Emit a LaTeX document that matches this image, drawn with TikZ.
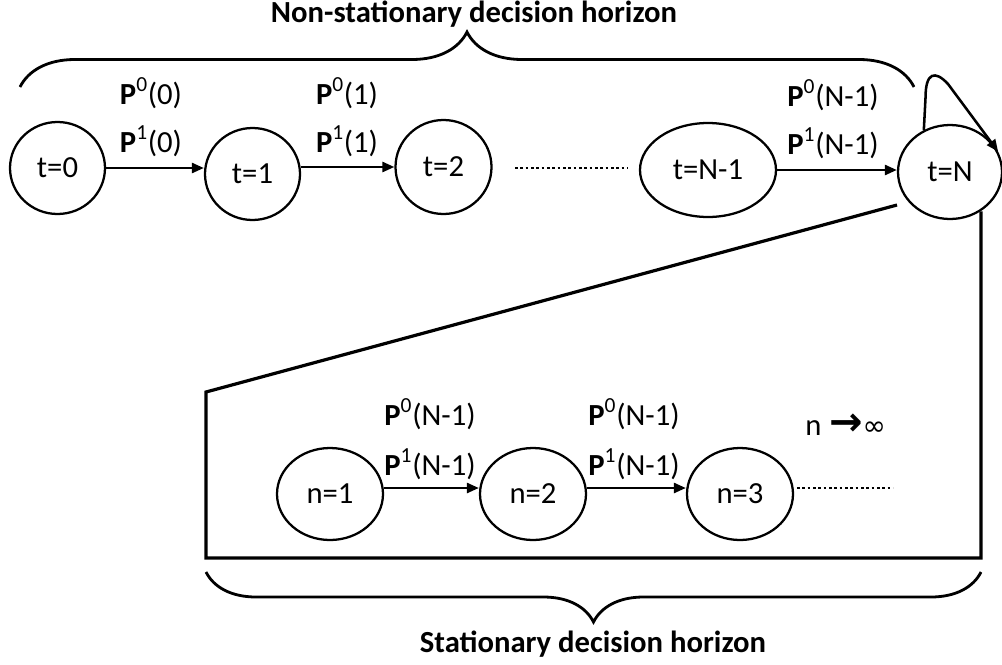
\documentclass[tikz,border=0pt]{standalone}
\usepackage{fontspec}
\setmainfont{Carlito}
\newfontfamily\symfont{DejaVu Sans}
\usetikzlibrary{shapes.geometric,arrows.meta,decorations.pathreplacing}
\begin{document}
\begin{tikzpicture}[x=0.75pt,y=-0.75pt,
  stnode/.style 2 args={ellipse, draw, line width=1.7pt, minimum width=#1*1.5pt, minimum height=#2*1.5pt, inner sep=0pt, font=\fontsize{23}{27}\selectfont},
  arr/.style={line width=1.9pt, -{Triangle[length=9pt,width=7.5pt]}},
  lab/.style={anchor=base, inner sep=0pt, font=\fontsize{23}{27}\selectfont},
  ttl/.style={anchor=base, inner sep=0pt, font=\fontsize{23}{27}\selectfont\bfseries},
  dotline/.style={line width=2pt, dash pattern=on 2pt off 2pt},
  boxline/.style={line width=2.4pt, line join=miter},
  bracel/.style={line width=2.1pt, decorate, decoration={brace, amplitude=#1}}
]
\useasboundingbox (0,0) rectangle (1002,664);

% upper chain
\node[stnode={47.5}{46}] (t0) at (57.5,168) {t=0};
\node[stnode={47.5}{46}] (t1) at (252.5,174) {t=1};
\node[stnode={48}{47}] (t2) at (443.5,167) {t=2};
\node[stnode={68}{47}] (tN1) at (708,170) {t=N-1};
\node[stnode={52}{47}] (tN) at (950,172) {t=N};

\draw[arr] (t0.east) -- (t0.east -| t1.west);
\draw[arr] (t2.west -| t1.east) -- (t2.west);
\draw[arr] (tN1.east) -- (tN1.east -| tN.west);
\draw[arr] (tN.122) -- (925.5,98) .. controls (925.5,72) and (935,70) .. (948,84) -- (tN.23);

\coordinate (d1a) at (515,168);
\coordinate (d1b) at (628,168);
\draw[dotline] (d1a) -- (d1b);

\node[lab] (a0) at (151,104) {\textbf{P}\textsuperscript{0}(0)};
\node[lab] (b0) at (151,152) {\textbf{P}\textsuperscript{1}(0)};
\node[lab] (a1) at (347,104) {\textbf{P}\textsuperscript{0}(1)};
\node[lab] (b1) at (347,152) {\textbf{P}\textsuperscript{1}(1)};
\node[lab] (a2) at (833,106) {\textbf{P}\textsuperscript{0}(N-1)};
\node[lab] (b2) at (833,154) {\textbf{P}\textsuperscript{1}(N-1)};

% top brace
\coordinate (tbl) at (20,87);
\coordinate (tbr) at (914,87);
\draw[bracel=41.25pt] (tbl) -- (tbr);
\node[ttl] (ttop) at (474,22) {Non-stationary decision horizon};

% zoom box
\coordinate (p1) at (897,205);
\coordinate (p2) at (206,392);
\coordinate (p3) at (206,558);
\coordinate (p4) at (981,558);
\draw[boxline] (p1) -- (p2) -- (p3) -- (p4) -- (p4 |- tN.-52);

% lower chain
\node[stnode={53}{46}] (n1) at (330,494) {n=1};
\node[stnode={53}{46}] (n2) at (533,494) {n=2};
\node[stnode={53}{46}] (n3) at (740,494) {n=3};

\draw[arr] ([yshift=4.5pt]n1.east) -- ([yshift=4.5pt]n2.west);
\draw[arr] ([yshift=4.5pt]n2.east) -- ([yshift=4.5pt]n3.west);

\coordinate (d2a) at (797,488);
\coordinate (d2b) at (893,488);
\draw[dotline] (d2a) -- (d2b);

\node[lab] (a3) at (430,425) {\textbf{P}\textsuperscript{0}(N-1)};
\node[lab] (b3) at (430,475) {\textbf{P}\textsuperscript{1}(N-1)};
\node[lab] (a4) at (634,425) {\textbf{P}\textsuperscript{0}(N-1)};
\node[lab] (b4) at (634,475) {\textbf{P}\textsuperscript{1}(N-1)};

\node[lab, anchor=base west] (ninf) at (805,435) {n\hspace{0.25em}{\symfont\bfseries\fontsize{30}{30}\selectfont →}{\symfont\fontsize{21}{21}\selectfont ∞}};

% bottom brace
\coordinate (bbr) at (981,572);
\coordinate (bbl) at (206,572);
\draw[bracel=37.5pt] (bbr) -- (bbl);
\node[ttl] (tbot) at (593,652) {Stationary decision horizon};
\end{tikzpicture}
\end{document}
